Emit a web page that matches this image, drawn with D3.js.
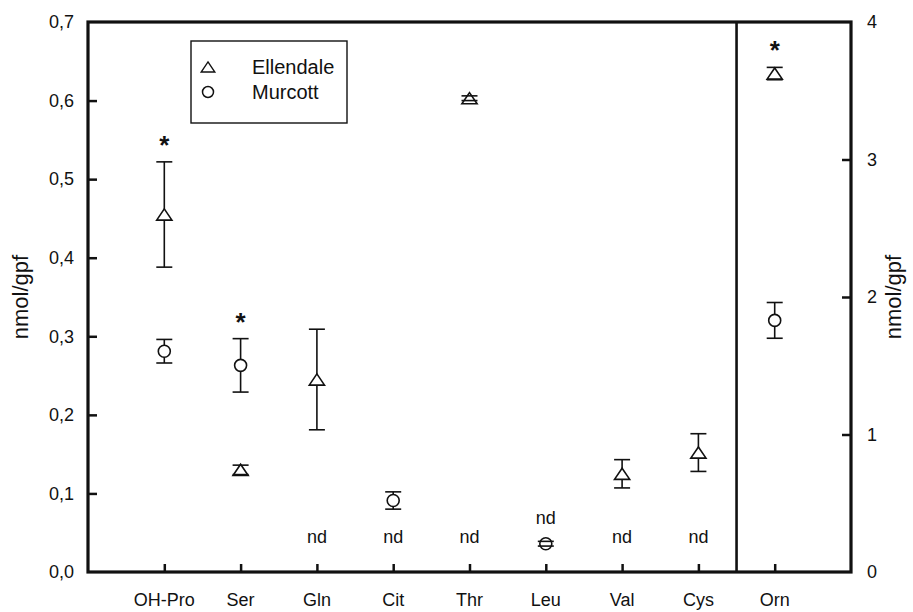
<!DOCTYPE html>
<html>
<head>
<meta charset="utf-8">
<script src="https://cdn.jsdelivr.net/npm/d3@7"></script>
<style>
  html, body { margin: 0; padding: 0; background: #fff; }
  svg { display: block; font-family: "Liberation Sans", Arial, Helvetica, sans-serif; }
</style>
</head>
<body>
<svg id="chart" width="913" height="612"></svg>
<script>
// Free amino acids (nmol/gpf) in two mandarin cultivars; Orn is read on the right axis.
const categories = ["OH-Pro", "Ser", "Gln", "Cit", "Thr", "Leu", "Val", "Cys", "Orn"];
const rightAxisCategories = ["Orn"];

const ellendaleMean = [0.455, 0.130, 0.245, null, 0.603, null, 0.125, 0.152, 3.625];
const ellendaleErr  = [0.067, 0.006, 0.064, null, 0.003, null, 0.018, 0.024, 0.045];
const murcottMean   = [0.281, 0.263, null, 0.091, null, 0.036, null, null, 1.83];
const murcottErr    = [0.015, 0.034, null, 0.011, null, 0.003, null, null, 0.13];

const significant = ["OH-Pro", "Ser", "Orn"];

const leftTicks  = [0, 0.1, 0.2, 0.3, 0.4, 0.5, 0.6, 0.7];
const rightTicks = [0, 1, 2, 3, 4];

const seriesNames = ["Ellendale", "Murcott"];
const axisTitle = "nmol/gpf";

// ---- layout ----
const plot = { left: 88, right: 851, top: 22, bottom: 572 };
const svg = d3.select("#chart");

const x = d3.scalePoint().domain(categories).range([plot.left, plot.right]).padding(1);
const yLeft = d3.scaleLinear().domain([0, 0.7]).range([plot.bottom, plot.top]);
const yRight = d3.scaleLinear().domain([0, 4]).range([plot.bottom, plot.top]);
const yFor = c => rightAxisCategories.includes(c) ? yRight : yLeft;

const ink = "#111";
const tickFont = 18;

// ---- axes ----
const gLeft = svg.append("g").attr("transform", `translate(${plot.left},0)`)
  .call(d3.axisRight(yLeft).tickValues(leftTicks).tickSize(9).tickFormat(""));
const gRight = svg.append("g").attr("transform", `translate(${plot.right},0)`)
  .call(d3.axisLeft(yRight).tickValues(rightTicks).tickSize(9).tickFormat(""));
const gBottom = svg.append("g").attr("transform", `translate(0,${plot.bottom})`)
  .call(d3.axisTop(x).tickSize(8).tickFormat(""));

[gLeft, gRight, gBottom].forEach(g => {
  g.select(".domain").remove();
  g.selectAll(".tick line").attr("stroke", ink).attr("stroke-width", 2.5);
});
// the end ticks coincide with the frame
gLeft.selectAll(".tick").filter(d => d === 0 || d === 0.7).remove();
gRight.selectAll(".tick").filter(d => d === 0 || d === 4).remove();

// tick labels
const fmtLeft = d => d3.format(".1f")(d).replace(".", ",");
svg.append("g").selectAll("text").data(leftTicks).join("text")
  .attr("x", 74).attr("y", d => yLeft(d)).attr("dy", "0.35em")
  .attr("text-anchor", "end").attr("font-size", tickFont).attr("fill", ink)
  .text(fmtLeft);
svg.append("g").selectAll("text").data(rightTicks).join("text")
  .attr("x", 867).attr("y", d => yRight(d)).attr("dy", "0.35em")
  .attr("text-anchor", "start").attr("font-size", tickFont).attr("fill", ink)
  .text(d => d);
svg.append("g").selectAll("text").data(categories).join("text")
  .attr("x", d => x(d)).attr("y", 606)
  .attr("text-anchor", "middle").attr("font-size", tickFont).attr("fill", ink)
  .text(d => d);

// axis titles
svg.append("text").attr("transform", "translate(28,297) rotate(-90)")
  .attr("text-anchor", "middle").attr("font-size", 22).attr("fill", ink).text(axisTitle);
svg.append("text").attr("transform", "translate(901,297) rotate(-90)")
  .attr("text-anchor", "middle").attr("font-size", 22).attr("fill", ink).text(axisTitle);

// frame and the separator before the right-axis group
svg.append("rect")
  .attr("x", plot.left).attr("y", plot.top)
  .attr("width", plot.right - plot.left).attr("height", plot.bottom - plot.top)
  .attr("fill", "none").attr("stroke", ink).attr("stroke-width", 3.2);
const sepX = (x("Cys") + x("Orn")) / 2;
svg.append("line").attr("x1", sepX).attr("x2", sepX)
  .attr("y1", plot.top).attr("y2", plot.bottom)
  .attr("stroke", ink).attr("stroke-width", 2.6);

// ---- data points ----
const triangle = "M0,-5.6L7.6,5.6L-7.6,5.6Z";
const capHalf = 8;

function points(means, errs, name) {
  return categories.map((c, i) => ({ c, name, mean: means[i], err: errs[i] }))
    .filter(d => d.mean !== null);
}
const pE = points(ellendaleMean, ellendaleErr, "Ellendale");
const pM = points(murcottMean, murcottErr, "Murcott");
const all = pE.concat(pM);

const gData = svg.append("g").attr("stroke", ink).attr("stroke-width", 1.6).attr("fill", "none");

// stems
gData.selectAll("line.stem").data(all).join("line").attr("class", "stem")
  .attr("x1", d => x(d.c)).attr("x2", d => x(d.c))
  .attr("y1", d => yFor(d.c)(d.mean + d.err))
  .attr("y2", d => yFor(d.c)(d.mean - d.err));

// markers
gData.selectAll("path.tri").data(pE).join("path").attr("class", "tri")
  .attr("d", triangle).attr("fill", "#fff")
  .attr("transform", d => `translate(${x(d.c)},${yFor(d.c)(d.mean)})`);
gData.selectAll("circle.dot").data(pM).join("circle").attr("class", "dot")
  .attr("r", 6).attr("fill", "#fff")
  .attr("cx", d => x(d.c)).attr("cy", d => yFor(d.c)(d.mean));

// caps
const caps = all.flatMap(d => [d.mean + d.err, d.mean - d.err].map(v => ({ c: d.c, v })));
gData.selectAll("line.cap").data(caps).join("line").attr("class", "cap")
  .attr("x1", d => x(d.c) - capHalf).attr("x2", d => x(d.c) + capHalf)
  .attr("y1", d => yFor(d.c)(d.v)).attr("y2", d => yFor(d.c)(d.v));

// significance stars above the highest cap
svg.append("g").selectAll("text").data(significant).join("text")
  .attr("x", c => x(c))
  .attr("y", c => {
    const tops = all.filter(d => d.c === c).map(d => yFor(c)(d.mean + d.err));
    return d3.min(tops) - 23 + 15;
  })
  .attr("text-anchor", "middle").attr("font-size", 26).attr("font-weight", "bold")
  .attr("fill", ink).text("*");

// "nd" (not detected) labels for the missing series
const ndItems = categories.filter(c => !rightAxisCategories.includes(c))
  .filter(c => pE.every(d => d.c !== c) || pM.every(d => d.c !== c));
svg.append("g").selectAll("text").data(ndItems).join("text")
  .attr("x", c => x(c))
  .attr("y", c => {
    const other = all.find(d => d.c === c);
    const low = other && other.mean < 0.06;
    return (low ? yLeft(0.069) : yLeft(0.045)) + 6;
  })
  .attr("text-anchor", "middle").attr("font-size", 18).attr("fill", ink).text("nd");

// ---- legend ----
const lg = svg.append("g").attr("transform", "translate(191,41)");
lg.append("rect").attr("width", 156).attr("height", 82)
  .attr("fill", "#fff").attr("stroke", ink).attr("stroke-width", 1.4);
lg.append("path").attr("d", triangle).attr("transform", "translate(17,26) scale(0.9)")
  .attr("fill", "#fff").attr("stroke", ink).attr("stroke-width", 1.5);
lg.append("circle").attr("cx", 17).attr("cy", 51).attr("r", 5.5)
  .attr("fill", "#fff").attr("stroke", ink).attr("stroke-width", 1.5);
lg.selectAll("text.lab").data(seriesNames).join("text").attr("class", "lab")
  .attr("x", 61).attr("y", (d, i) => 26 + i * 25).attr("dy", "0.35em")
  .attr("font-size", 20).attr("fill", ink).text(d => d);
</script>
</body>
</html>
